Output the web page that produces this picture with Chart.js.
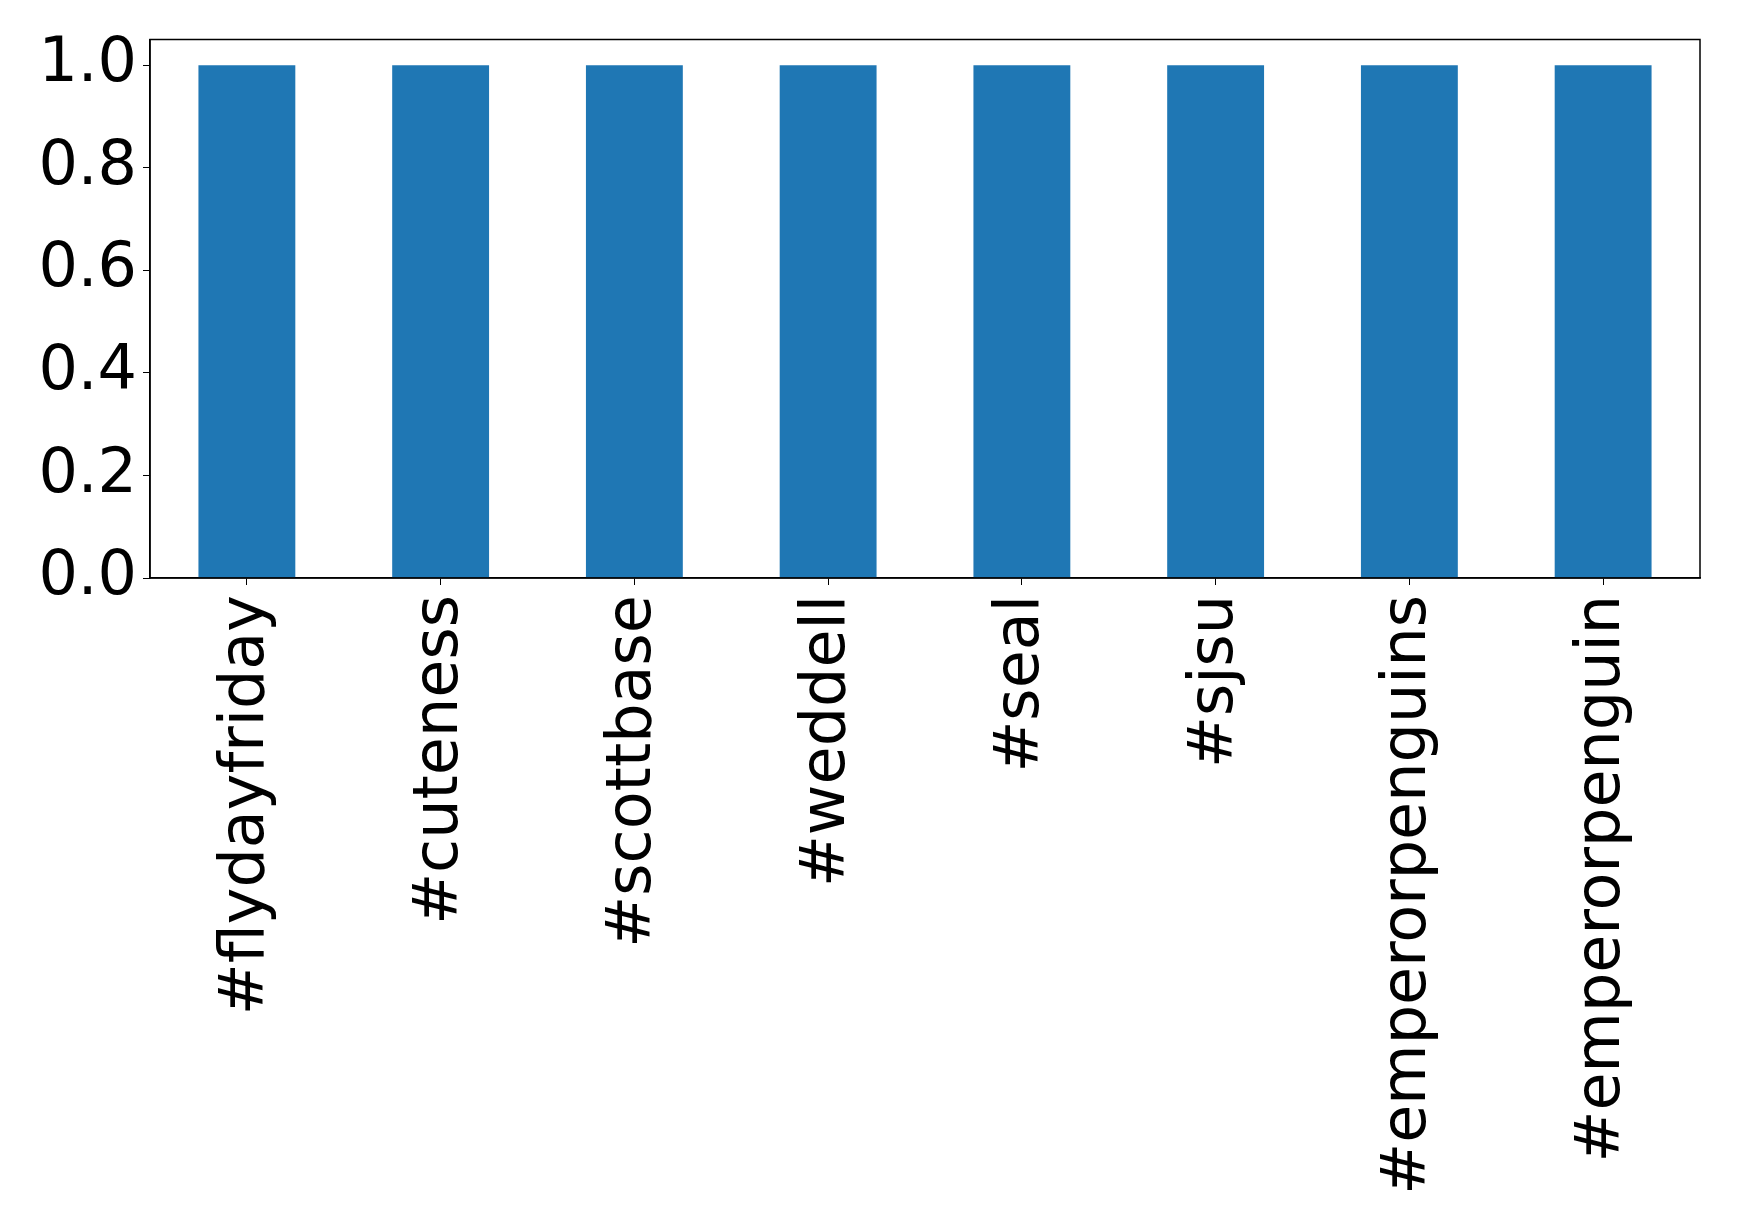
<!DOCTYPE html>
<html>
<head>
<meta charset="utf-8">
<script src="https://cdn.jsdelivr.net/npm/chart.js@4/dist/chart.umd.min.js"></script>
<style>
html,body{margin:0;padding:0;background:#fff;}
canvas{display:block;}
</style>
</head>
<body>
<canvas id="c" width="1739" height="1232" style="width:1739px;height:1232px"></canvas>
<script>
const categories = ["#flydayfriday","#cuteness","#scottbase","#weddell","#seal","#sjsu","#emperorpenguins","#emperorpenguin"];
const values = [1,1,1,1,1,1,1,1];
const yTicks = [0,0.2,0.4,0.6,0.8,1.0];

const frame = {
  id:'frame',
  afterDraw(chart){
    const a = chart.chartArea, ctx = chart.ctx;
    ctx.save();
    ctx.strokeStyle = '#000';
    ctx.lineWidth = 1.5;
    ctx.strokeRect(a.left, a.top, a.right - a.left, a.bottom - a.top);
    ctx.restore();
  }
};

new Chart(document.getElementById('c'), {
  type:'bar',
  data:{labels:categories, datasets:[{data:values, backgroundColor:'#1f77b4', barPercentage:0.5, categoryPercentage:1.0}]},
  options:{
    responsive:false,
    animation:false,
    devicePixelRatio:1,
    layout:{padding:{top:39.5,right:39,left:0,bottom:0}},
    plugins:{legend:{display:false}, tooltip:{enabled:false}},
    scales:{
      x:{
        offset:true,
        grid:{display:true, drawOnChartArea:false, tickLength:7, color:'#000', offset:false},
        border:{display:true, color:'#000', width:1.5},
        ticks:{font:{family:'DejaVu Sans', size:62}, color:'#000', minRotation:90, maxRotation:90, padding:10, autoSkip:false},
        afterFit(s){ s.height = 654; }
      },
      y:{
        min:0, max:1.05,
        afterBuildTicks(s){ s.ticks = yTicks.map(v=>({value:v})); },
        grid:{display:true, drawOnChartArea:false, tickLength:7, color:'#000'},
        border:{display:true, color:'#000', width:1.5},
        ticks:{font:{family:'DejaVu Sans', size:62, lineHeight:0.9}, color:'#000', padding:6, callback:v=>v.toFixed(1)},
        afterFit(s){ s.width = 150; }
      }
    }
  },
  plugins:[frame]
});
</script>
</body>
</html>
